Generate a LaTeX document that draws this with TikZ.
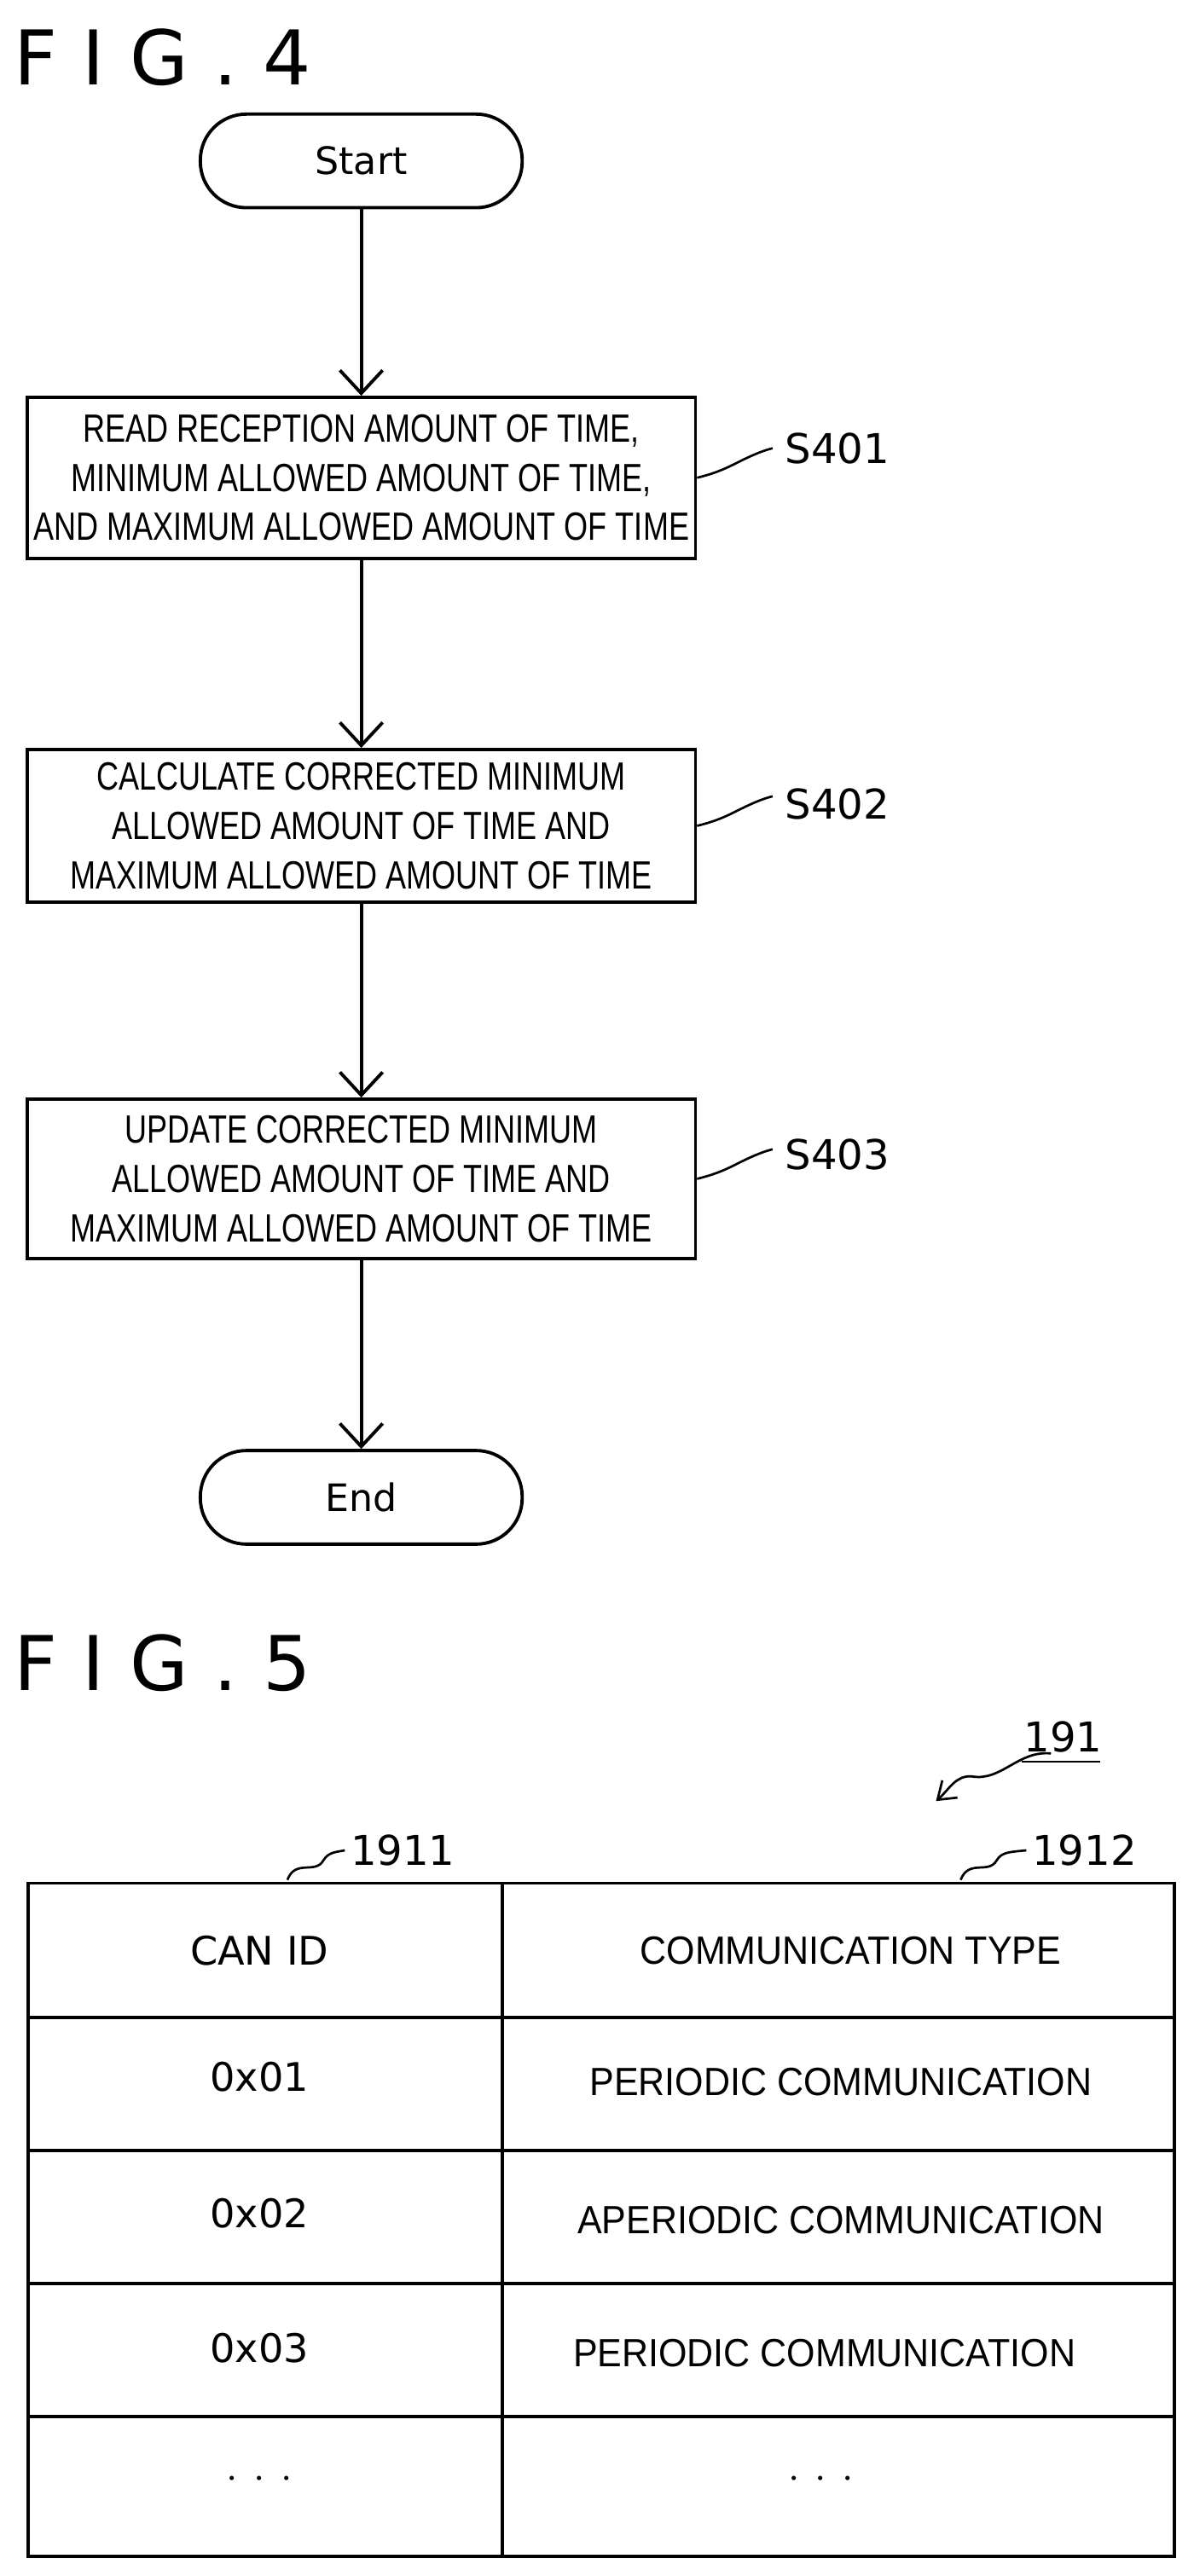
\documentclass[tikz,border=0pt]{standalone}
\usepackage{fontspec}
\setmainfont{Liberation Sans}
\newfontfamily\cond[FakeStretch=0.78]{Liberation Sans}
\newfontfamily\condb[FakeStretch=0.93]{Liberation Sans}
\newfontfamily\djv{DejaVu Sans}
\usetikzlibrary{arrows.meta}
\begin{document}
\begin{tikzpicture}[x=1pt,y=-1pt,
  box/.style={draw,line width=2pt,minimum width=407pt,align=center,font=\cond\fontsize{24}{30}\selectfont,inner sep=0pt},
  pill/.style={draw,line width=2pt,rounded corners=28pt,minimum width=196pt,minimum height=57pt,font=\djv\fontsize{23}{24}\selectfont},
  arr/.style={line width=2pt,-{Straight Barb[length=14pt,width=26pt,line width=2pt]}},
  lab/.style={font=\djv\fontsize{25}{26}\selectfont},
  fig/.style={font=\djv\fontsize{46}{48}\selectfont,anchor=west},
  wv/.style={line width=1.4pt},
  cell/.style={font=\condb\fontsize{24}{26}\selectfont}]
\useasboundingbox (0,0) rectangle (727,1569);
\node[fig] (f4) at (5,35) {F\,\,I\,\,G\,\,.\,\,4};
\node[pill] (st) at (220,98) {Start};
\node[box,minimum height=98pt] (b1) at (220,291) {READ RECEPTION AMOUNT OF TIME,\\MINIMUM ALLOWED AMOUNT OF TIME,\\AND MAXIMUM ALLOWED AMOUNT OF TIME};
\node[box,minimum height=93pt] (b2) at (220,503) {CALCULATE CORRECTED MINIMUM\\ALLOWED AMOUNT OF TIME AND\\MAXIMUM ALLOWED AMOUNT OF TIME};
\node[box,minimum height=97pt] (b3) at (220,718) {UPDATE CORRECTED MINIMUM\\ALLOWED AMOUNT OF TIME AND\\MAXIMUM ALLOWED AMOUNT OF TIME};
\node[pill] (en) at (220,912) {End};
\draw[arr] (st) -- (b1);
\draw[arr] (b1) -- (b2);
\draw[arr] (b2) -- (b3);
\draw[arr] (b3) -- (en);
\node[lab] (l1) at (510,273) {S401};
\node[lab] (l2) at (510,490) {S402};
\node[lab] (l3) at (510,703) {S403};
\foreach \b/\l in {b1/l1,b2/l2,b3/l3}{
  \draw[wv] (\b.east) ++(0,0) .. controls +(8,-2) and +(-8,4) .. ++(22,-8) .. controls +(8,-4) and +(-8,2) .. ++(24,-10);}
\node[fig] (f5) at (5,1013) {F\,\,I\,\,G\,\,.\,\,5};
\node[lab,anchor=west] (l191) at (620,1058) {191};
\draw[line width=1.2pt] (622,1073) -- (670,1073);
\coordinate (a191) at (570,1097);
\draw[wv,-{Straight Barb[length=10pt,width=14pt,line width=1.4pt]}] (640,1068) .. controls (620,1066) and (610,1085) .. (592,1082) .. controls (582,1081) and (578,1090) .. (a191);
\draw[line width=2pt] (17,1147) rectangle (715,1557);
\draw[line width=2pt] (306,1147) -- (306,1557);
\foreach \y in {1229,1310,1391,1472}{\draw[line width=2pt] (17,\y) -- (715,\y);}
\node[lab,anchor=west] (l1911) at (210,1127) {1911};
\node[lab,anchor=west] (l1912) at (625,1127) {1912};
\draw[wv] (175,1145) .. controls (180,1132) and (192,1142) .. (197,1133) .. controls (200,1128) and (205,1128) .. (l1911.west);
\draw[wv] (585,1145) .. controls (590,1132) and (602,1142) .. (607,1133) .. controls (610,1128) and (615,1128) .. (l1912.west);
\node[font=\djv\fontsize{24}{24}\selectfont] (c11) at (158,1188) {CAN ID};
\node[cell] (c12) at (518,1188) {COMMUNICATION TYPE};
\node[font=\djv\fontsize{24}{24}\selectfont] (c21) at (158,1265) {0x01};
\node[cell] (c22) at (512,1268) {PERIODIC COMMUNICATION};
\node[font=\djv\fontsize{24}{24}\selectfont] (c31) at (158,1348) {0x02};
\node[cell] (c32) at (512,1352) {APERIODIC COMMUNICATION};
\node[font=\djv\fontsize{24}{24}\selectfont] (c41) at (158,1430) {0x03};
\node[cell] (c42) at (502,1433) {PERIODIC COMMUNICATION};
\node[font=\djv\fontsize{24}{24}\selectfont] (c51) at (158,1510) {$\cdot\,\cdot\,\cdot$};
\node[font=\djv\fontsize{24}{24}\selectfont] (c52) at (500,1510) {$\cdot\,\cdot\,\cdot$};
\end{tikzpicture}
\end{document}
